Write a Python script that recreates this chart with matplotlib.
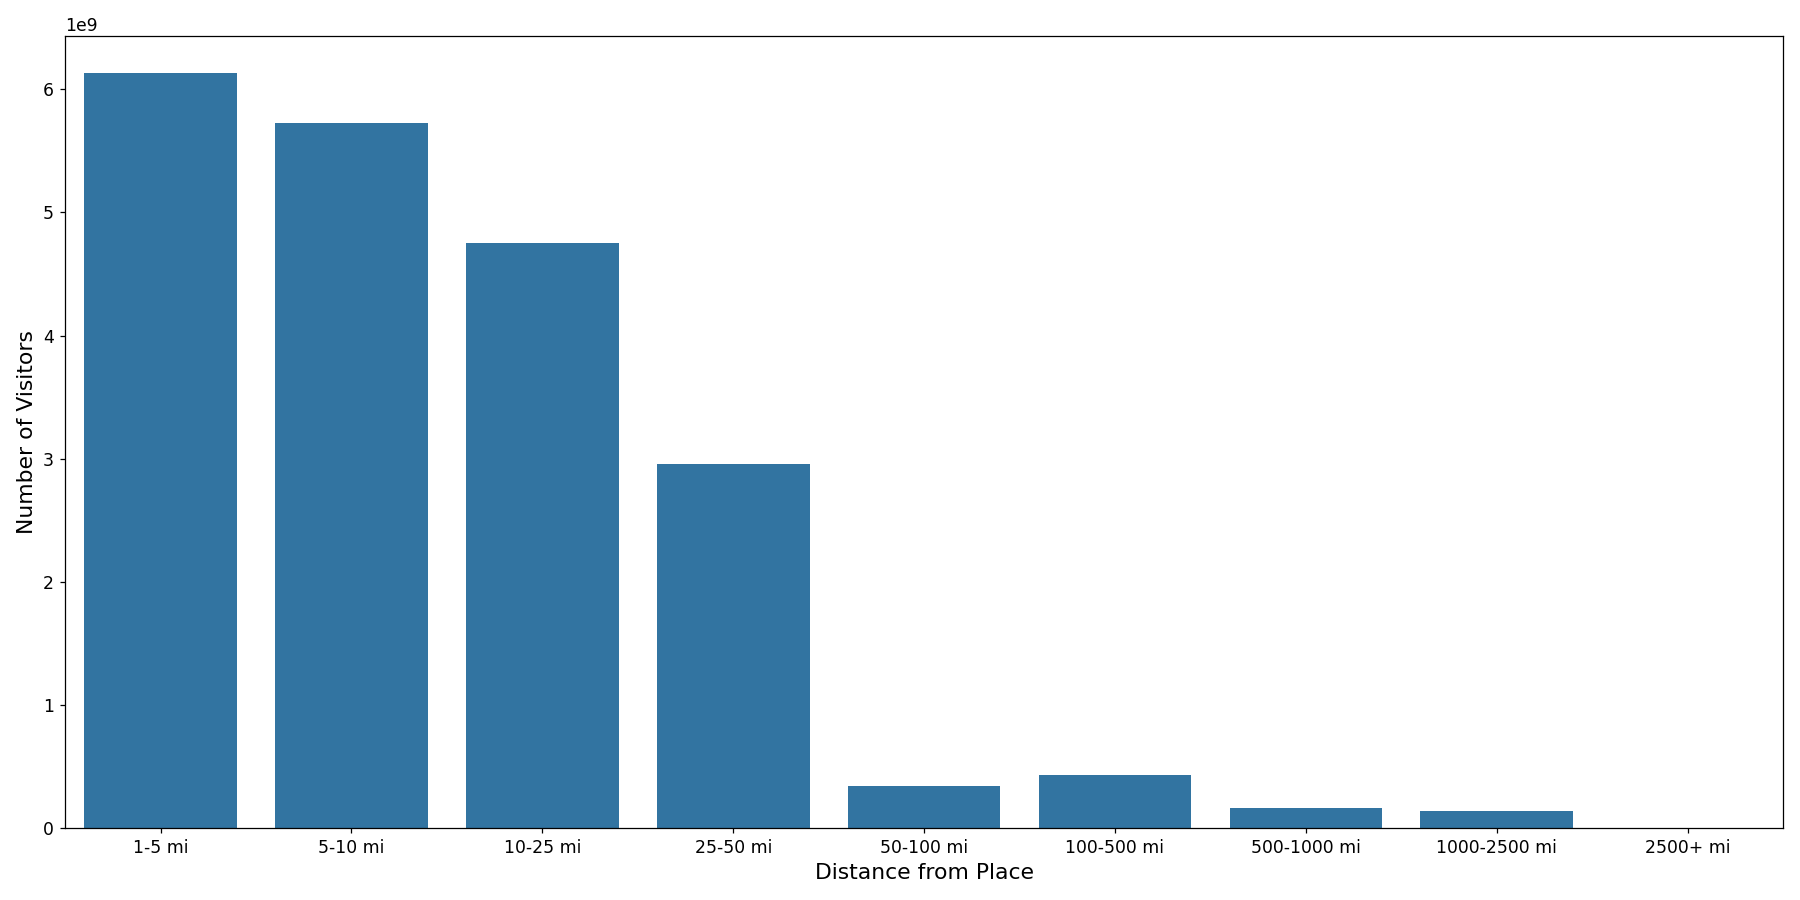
import matplotlib
matplotlib.use("Agg")
import matplotlib.pyplot as plt

categories = ["1-5 mi", "5-10 mi", "10-25 mi", "25-50 mi", "50-100 mi", "100-500 mi", "500-1000 mi", "1000-2500 mi", "2500+ mi"]
visitors = [6.13e9, 5.73e9, 4.75e9, 2.96e9, 0.34e9, 0.43e9, 0.165e9, 0.136e9, 0.003e9]

fig, ax = plt.subplots(figsize=(16, 8), dpi=112.5)
x = range(len(categories))
ax.bar(x, visitors, width=0.8, color="#3274a1")
ax.set_xticks(list(x))
ax.set_xticklabels(categories)
ax.set_xlim(-0.5, len(categories) - 0.5)
ax.set_xlabel("Distance from Place", fontsize=14)
ax.set_ylabel("Number of Visitors", fontsize=14)
ax.tick_params(labelsize=11)
ax.yaxis.get_offset_text().set_fontsize(11)
fig.tight_layout()
fig.savefig("out.png")
